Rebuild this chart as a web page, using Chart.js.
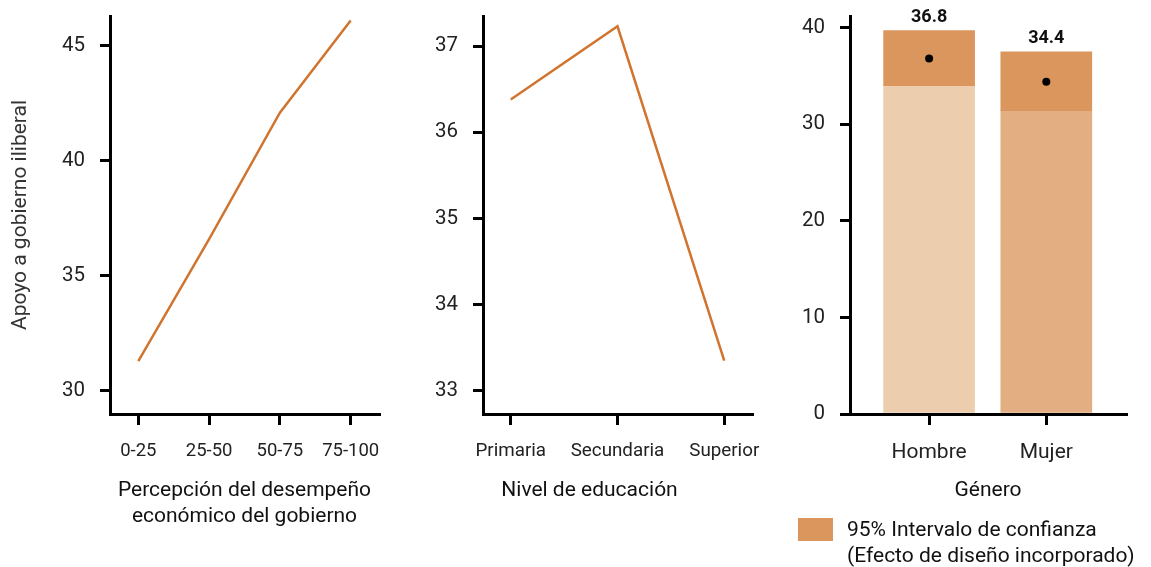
<!DOCTYPE html>
<html>
<head>
<meta charset="utf-8">
<script src="https://cdn.jsdelivr.net/npm/chart.js@4.4.1/dist/chart.umd.min.js"></script>
<style>
  html, body { margin: 0; padding: 0; background: #fff; }
  #wrap { position: relative; width: 1151px; height: 567px; }
  canvas { position: absolute; top: 0; }
</style>
</head>
<body>
<div id="wrap">
  <canvas id="c1" width="400" height="567" style="left:0px"></canvas>
  <canvas id="c2" width="375" height="567" style="left:400px"></canvas>
  <canvas id="c3" width="376" height="567" style="left:775px"></canvas>
</div>
<script>
// panel 1: economic performance perception
const econLabels = ['0-25', '25-50', '50-75', '75-100'];
const econValues = [31.3, 36.6, 42.1, 46.1];
const econTicks = [30, 35, 40, 45];

// panel 2: education level
const eduLabels = ['Primaria', 'Secundaria', 'Superior'];
const eduValues = [36.38, 37.23, 33.35];
const eduTicks = [33, 34, 35, 36, 37];

// panel 3: gender
const genderLabels = ['Hombre', 'Mujer'];
const genderMeans = [36.8, 34.4];
const genderCiLow = [34.0, 31.4];
const genderCiHigh = [39.7, 37.5];
const genderTicks = [0, 10, 20, 30, 40];

const LINE = '#D0742F';
const CI = '#DB965E';
const BASE = ['#ECCEAF', '#E2AE82'];
const FONT = 'Roboto, "Liberation Sans", Arial, sans-serif';

Chart.defaults.font.family = FONT;
Chart.defaults.color = '#222';
Chart.defaults.animation = false;
Chart.defaults.plugins.legend.display = false;
Chart.defaults.plugins.tooltip.enabled = false;

function xAxis(labels, min, max, height, tickSize, title, titlePad) {
  return {
    type: 'linear', min: min, max: max, offset: false,
    afterBuildTicks: s => { s.ticks = labels.map((_, i) => ({ value: i })); },
    afterFit: s => { s.height = height; s.paddingLeft = 0; s.paddingRight = 0; },
    ticks: { callback: v => labels[v], autoSkip: false, maxRotation: 0, padding: 15, font: { size: tickSize }, color: '#222' },
    grid: { drawOnChartArea: false, drawTicks: true, tickLength: 11, color: '#000', lineWidth: 3, offset: false },
    border: { display: true, color: '#000', width: 3 },
    title: title ? {
      display: true, text: title, color: '#111',
      font: { size: 21, lineHeight: '26px' },
      padding: { top: 0, bottom: titlePad }
    } : { display: false }
  };
}

function yAxis(ticks, min, max, width, title) {
  return {
    type: 'linear', min: min, max: max,
    afterBuildTicks: s => { s.ticks = ticks.map(v => ({ value: v })); },
    afterFit: s => { s.width = width; s.paddingTop = 0; s.paddingBottom = 0; },
    ticks: { callback: v => v, padding: 15, font: { size: 20.5 }, color: '#222' },
    grid: { drawOnChartArea: false, drawTicks: true, tickLength: 10, color: '#000', lineWidth: 3 },
    border: { display: true, color: '#000', width: 3 },
    title: title ? {
      display: true, text: title, color: '#333',
      font: { size: 21 },
      padding: { top: 8, bottom: 0 }
    } : { display: false }
  };
}

function lineSet(values) {
  return {
    data: values.map((v, i) => ({ x: i, y: v })),
    borderColor: LINE, borderWidth: 2.5,
    pointRadius: 0, tension: 0, fill: false
  };
}

new Chart(document.getElementById('c1'), {
  type: 'line',
  data: { datasets: [lineSet(econValues)] },
  options: {
    responsive: false,
    layout: { padding: { left: 0, top: 16, right: 21, bottom: 0 } },
    scales: {
      x: xAxis(econLabels, -0.4, 3.4, 153, 18.5, ['Percepción del desempeño', 'económico del gobierno'], 37),
      y: yAxis(econTicks, 29, 46.3, 110, 'Apoyo a gobierno iliberal')
    }
  }
});

const eduTitle = {
  id: 'eduTitle',
  afterDraw(chart) {
    const { ctx, chartArea } = chart;
    ctx.save();
    ctx.font = '21px ' + FONT;
    ctx.fillStyle = '#111';
    ctx.textAlign = 'center';
    ctx.textBaseline = 'middle';
    ctx.fillText('Nivel de educación', (chartArea.left + chartArea.right) / 2 - 28, 491);
    ctx.restore();
  }
};

new Chart(document.getElementById('c2'), {
  type: 'line',
  data: { datasets: [lineSet(eduValues)] },
  options: {
    responsive: false,
    layout: { padding: { left: 0, top: 16, right: 23, bottom: 0 } },
    scales: {
      x: xAxis(eduLabels, -0.26, 2.26, 153, 18.8, null, 0),
      y: yAxis(eduTicks, 32.73, 37.35, 83, null)
    }
  },
  plugins: [eduTitle]
});

const barLabels = {
  id: 'barLabels',
  afterDatasetsDraw(chart) {
    const { ctx, scales: { x, y } } = chart;
    ctx.save();
    ctx.font = 'bold 18px ' + FONT;
    ctx.fillStyle = '#111';
    ctx.textAlign = 'center';
    ctx.textBaseline = 'middle';
    genderMeans.forEach((m, i) => {
      ctx.fillText(m.toFixed(1), x.getPixelForValue(i), y.getPixelForValue(genderCiHigh[i]) - 13);
    });
    ctx.restore();
  }
};

const ciLegend = {
  id: 'ciLegend',
  afterDraw(chart) {
    const { ctx, chartArea } = chart;
    const sx = chartArea.left - 52;
    ctx.save();
    ctx.fillStyle = CI;
    ctx.fillRect(sx, 518, 35, 23);
    ctx.font = '21px ' + FONT;
    ctx.fillStyle = '#111';
    ctx.textAlign = 'left';
    ctx.textBaseline = 'middle';
    ctx.fillText('95% Intervalo de confianza', sx + 49, 531);
    ctx.fillText('(Efecto de diseño incorporado)', sx + 49, 557);
    ctx.restore();
  }
};

new Chart(document.getElementById('c3'), {
  type: 'bar',
  data: {
    datasets: [
      {
        type: 'scatter',
        data: genderLabels.map((_, i) => ({ x: i, y: genderMeans[i] })),
        pointRadius: 4, backgroundColor: '#000', borderWidth: 0, order: 1
      },
      {
        type: 'bar',
        data: genderLabels.map((_, i) => ({ x: i, y: [genderCiLow[i], genderCiHigh[i]] })),
        backgroundColor: CI, barThickness: 91, grouped: false, order: 2
      },
      {
        type: 'bar',
        data: genderLabels.map((_, i) => ({ x: i, y: genderCiLow[i] })),
        backgroundColor: BASE, barThickness: 91, grouped: false, order: 3
      }
    ]
  },
  options: {
    responsive: false,
    layout: { padding: { left: 0, top: 16, right: 25, bottom: 0 } },
    scales: {
      x: xAxis(genderLabels, -0.675, 1.68, 153, 21, 'Género', 63),
      y: yAxis(genderTicks, 0, 41.2, 75, null)
    }
  },
  plugins: [barLabels, ciLegend]
});
</script>
</body>
</html>
